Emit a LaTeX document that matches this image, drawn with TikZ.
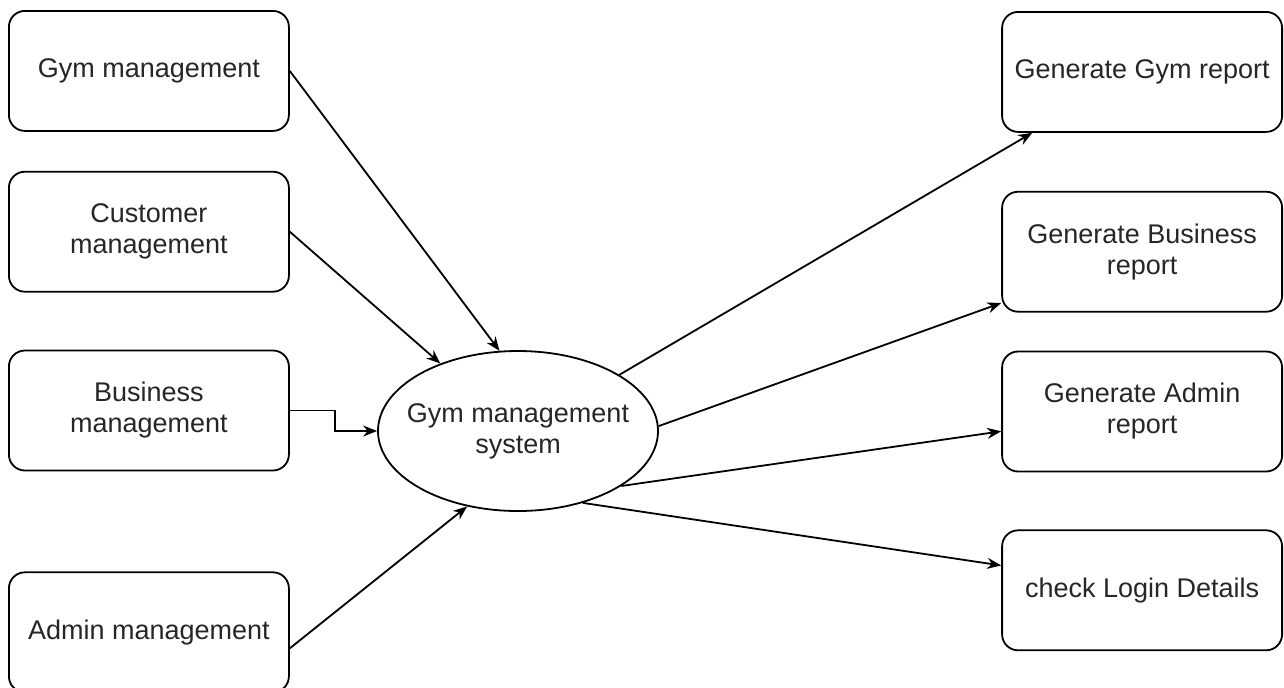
\documentclass[tikz,border=0pt]{standalone}
\usepackage{fontspec}
\setmainfont{Liberation Sans}
\usetikzlibrary{arrows.meta,positioning,shapes.geometric}

\begin{document}
\begin{tikzpicture}[x=0.5pt, y=-0.5pt, node distance=20pt, font=\fontsize{13.5}{15.5}\selectfont]
\tikzstyle{blk}=[draw, rounded corners=8pt, align=center, text=black!85, minimum width=140pt, minimum height=60pt, inner sep=2pt, line width=0.9pt]
\tikzstyle{flow}=[-{Stealth[length=7pt, width=5.5pt]}, line width=0.9pt]
\useasboundingbox (0,0) rectangle (1284,687);
% inputs
\node[blk, anchor=north west] (gm) at (8,10) {Gym management};
\node[blk, below=19.5pt of gm] (cm) {Customer\\ management};
\node[blk, below=28.5pt of cm] (bm) {Business\\ management};
\node[blk, below=50pt of bm] (am) {Admin management};
% system
\node[draw, ellipse, text=black!85, minimum width=140pt, minimum height=80pt, inner xsep=-15pt, inner ysep=0pt, line width=0.9pt, align=center] (sys) at (518,431) {Gym management\\ system};
% outputs
\node[blk, anchor=north east] (gr) at (1283,11) {Generate Gym report};
\node[blk, below=29pt of gr] (gb) {Generate Business\\ report};
\node[blk, below=19pt of gb] (ga) {Generate Admin\\ report};
\node[blk, below=28.5pt of ga] (cl) {check Login Details};
\draw[flow] (gm.east) -- (sys.103);
\draw[flow] (cm.east) -- (sys.139);
\draw[flow] (bm.east) -- ++(45,0) |- (sys.west);
\draw[flow] ([yshift=-8pt]am.east) -- (sys.236);
\draw[flow] (sys.29) -- (gr.-151);
\draw[flow] (sys.2) -- (gb.200);
\draw[flow] (sys.-28) -- (ga.188);
\draw[flow] (sys.-48) -- (cl.170);
\end{tikzpicture}
\end{document}
